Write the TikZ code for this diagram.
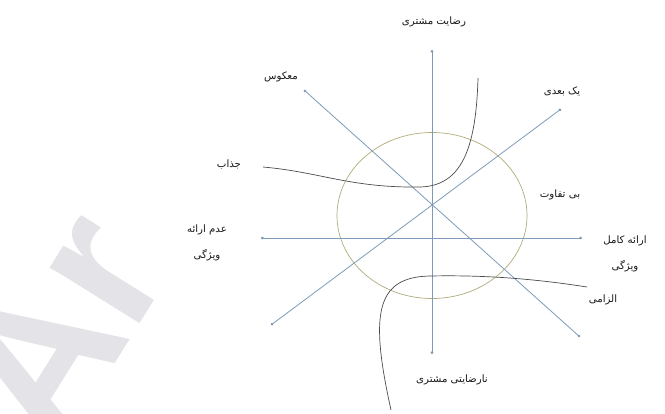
\documentclass[tikz,border=0pt]{standalone}
\usepackage{fontspec}
\setmainfont{Liberation Serif}
\newfontfamily\arabicfont[Script=Arabic]{DejaVu Sans}
\newfontfamily\wmfont{Liberation Sans}
\TeXXeTstate=1
\usetikzlibrary{arrows.meta}
\definecolor{axiscol}{RGB}{125,155,185}
\definecolor{ringcol}{RGB}{178,172,125}
\definecolor{curvecol}{RGB}{75,75,75}
\definecolor{wmcol}{RGB}{228,228,232}
\tikzset{
  axisline/.style={draw=axiscol, line width=0.8pt, {Circle[length=2.6pt]}-{Circle[length=2.6pt]}},
  ringline/.style={draw=ringcol, line width=0.7pt},
  kanocurve/.style={draw=curvecol, line width=0.7pt},
  lbl/.style={font=\arabicfont\fontsize{10.2}{26}\selectfont, text=black!90, inner sep=1pt, align=center},
  wmtext/.style={font=\wmfont\bfseries\fontsize{200}{200}\selectfont, text=wmcol, inner sep=0pt, rotate=58, anchor=base west},
}
\begin{document}
\begin{tikzpicture}[x=1pt,y=-1pt]
\useasboundingbox (0,0) rectangle (665,413);
\fill[white] (0,0) rectangle (665,413);
% watermark
\begin{scope}
  \clip (0,0) rectangle (665,413);
  \node[wmtext] (wmA) at (56,458) {A};
  \node[wmtext] (wmr) at (132,336) {r};
\end{scope}
% axis end points
\coordinate (vtop) at (432,50);
\coordinate (vbot) at (432,354);
\coordinate (hleft) at (261,238);
\coordinate (hright) at (582,238);
\coordinate (nw) at (304,90);
\coordinate (se) at (580,337);
\coordinate (sw) at (271,325);
\coordinate (ne) at (561,109);
% ring
\draw[ringline] (432,215.5) ellipse [x radius=95, y radius=83];
% axes
\draw[axisline] (vtop) -- (vbot);
\draw[axisline] (hleft) -- (hright);
\draw[axisline] (nw) -- (se);
\draw[axisline] (sw) -- (ne);
% curves
\coordinate (attA) at (263,167);
\coordinate (attB) at (420,187);
\coordinate (attC) at (478,78);
\draw[kanocurve] (attA) .. controls (320,172) and (350,188) .. (attB)
  .. controls (460,186) and (476,152) .. (attC);
\coordinate (mbA) at (587,287);
\coordinate (mbB) at (430,276);
\coordinate (mbC) at (391,410);
\draw[kanocurve] (mbA) .. controls (530,278) and (480,275) .. (mbB)
  .. controls (375,277) and (370,315) .. (mbC);
% labels
\node[lbl] (sat) at (434,22) {\beginR رضایت مشتری\endR};
\node[lbl] (dis) at (452,380) {\beginR نارضایتی مشتری\endR};
\node[lbl] (rev) at (281,77) {\beginR معکوس\endR};
\node[lbl] (one) at (562,91) {\beginR یک بعدی\endR};
\node[lbl] (att) at (229,164) {\beginR جذاب\endR};
\node[lbl] (ind) at (560,195) {\beginR بی تفاوت\endR};
\node[lbl] (must) at (603,300) {\beginR الزامی\endR};
\node[lbl] (none) at (207,243) {\beginR عدم ارائه\endR\\\beginR ویژگی\endR};
\node[lbl] (full) at (625,254) {\beginR ارائه کامل\endR\\\beginR ویژگی\endR};
\end{tikzpicture}
\end{document}
